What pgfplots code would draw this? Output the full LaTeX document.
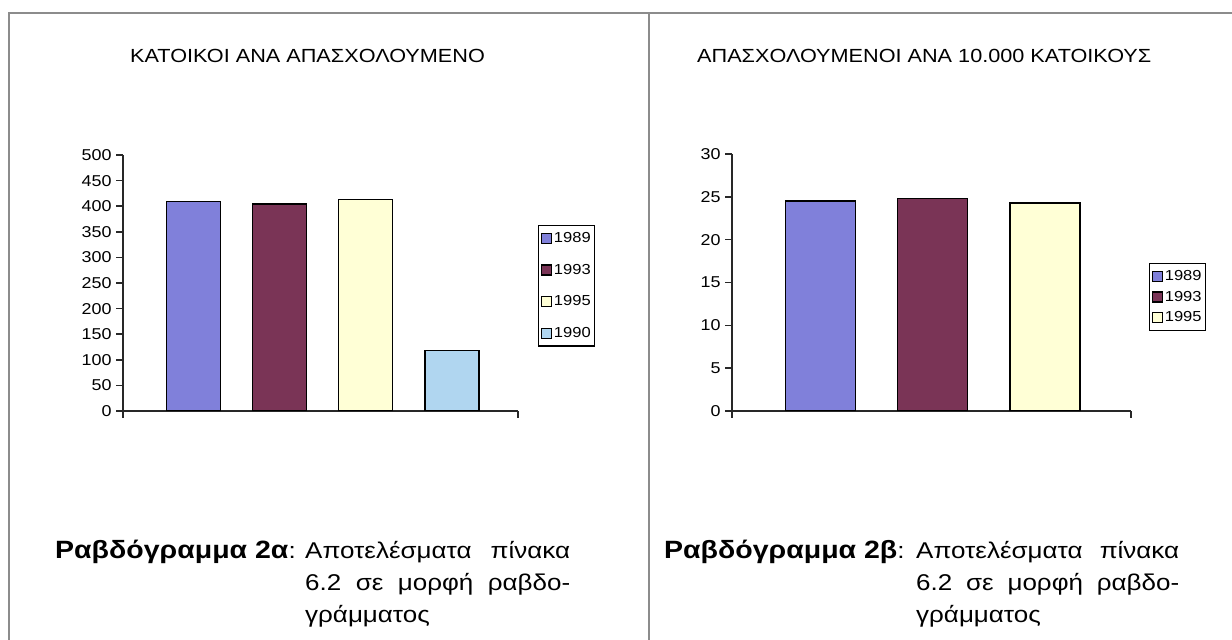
\documentclass[border=0pt]{standalone}
\usepackage{fontspec}
\setmainfont{Liberation Sans}[FakeStretch=1.14]
\usepackage{pgfplots}
\pgfplotsset{compat=1.18}
\definecolor{c89}{RGB}{128,128,218}
\definecolor{c93}{RGB}{122,52,86}
\definecolor{c95}{RGB}{255,255,214}
\definecolor{c90}{RGB}{176,214,240}
\definecolor{axc}{RGB}{40,40,40}
\pgfplotsset{
  excel/.style={
    scale only axis,
    anchor=south west,
    enlargelimits=false,
    axis lines=left,
    axis line style={-, line width=2pt, axc},
    tick align=outside,
    major tick length=7pt,
    tick style={line width=1.6pt, axc},
    xticklabels={},
    ymin=0,
    /pgf/number format/assume math mode=true,
    yticklabel style={font=\fontsize{15.7}{15.7}\selectfont, xshift=-1pt},
    legend style={draw=black, line width=1.3pt, fill=white,
      font=\fontsize{14.5}{14.5}\selectfont,
      inner xsep=2pt, inner ysep=5pt,
      anchor=north west, cells={anchor=west}},
    legend image code/.code={\draw[#1, line width=1.2pt] (0pt,-5pt) rectangle (10pt,5pt);},
  },
  bar/.style={ybar, bar width=#1, bar shift=0pt, draw=black, line width=1.6pt},
}
\begin{document}
\begin{tikzpicture}[x=1pt,y=1pt]
\path[use as bounding box] (0,0) rectangle (1232,640);
\draw[black!45, line width=1.3pt] (9,0) -- (9,627) -- (1232,627);
\draw[black!45, line width=1.3pt] (649,0) -- (649,627);

% Left chart
\begin{axis}[excel, at={(123pt,229pt)}, width=395pt, height=256pt,
  xmin=0.18, xmax=4.77, xtick={0.18,4.77},
  ymax=500, ytick={0,50,...,500},
  legend style={at={(1.051,0.727)}, row sep=16pt}]
\addplot[bar=54pt, fill=c89] coordinates {(1,409)};
\addplot[bar=54pt, fill=c93] coordinates {(2,404)};
\addplot[bar=54pt, fill=c95] coordinates {(3,413)};
\addplot[bar=54pt, fill=c90] coordinates {(4,118)};
\legend{1989,1993,1995,1990}
\end{axis}

% Right chart
\begin{axis}[excel, at={(732pt,229pt)}, width=399pt, height=257pt,
  xmin=0.21, xmax=3.77, xtick={0.21,3.77},
  ymax=30, ytick={0,5,...,30},
  legend style={at={(1.045,0.576)}, row sep=5pt}]
\addplot[bar=70pt, fill=c89] coordinates {(1,24.5)};
\addplot[bar=70pt, fill=c93] coordinates {(2,24.8)};
\addplot[bar=70pt, fill=c95] coordinates {(3,24.3)};
\legend{1989,1993,1995}
\end{axis}

% Titles
\node[anchor=base west, inner sep=0pt, font=\fontsize{19}{19}\selectfont] at (130,577) {ΚΑΤΟΙΚΟΙ ΑΝΑ ΑΠΑΣΧΟΛΟΥΜΕΝΟ};
\node[anchor=base west, inner sep=0pt, font=\fontsize{19}{19}\selectfont] at (697,577) {ΑΠΑΣΧΟΛΟΥΜΕΝΟΙ ΑΝΑ 10.000 ΚΑΤΟΙΚΟΥΣ};

% Captions
\begin{scope}[every node/.style={anchor=base west, inner sep=0pt, font=\fontsize{22.8}{22.8}\selectfont}]
\node at (55,81) {{\fontsize{25}{25}\selectfont\bfseries Ραβδόγραμμα 2α}:};
\node at (305,81) {\makebox[265pt][s]{Αποτελέσματα\hfill πίνακα}};
\node at (305,49) {\makebox[265pt][s]{6.2\hfill σε\hfill μορφή\hfill ραβδο-}};
\node at (305,17) {γράμματος};
\node at (664,81) {{\fontsize{25}{25}\selectfont\bfseries Ραβδόγραμμα 2β}:};
\node at (916,81) {\makebox[263pt][s]{Αποτελέσματα\hfill πίνακα}};
\node at (916,49) {\makebox[263pt][s]{6.2\hfill σε\hfill μορφή\hfill ραβδο-}};
\node at (916,17) {γράμματος};
\end{scope}
\end{tikzpicture}
\end{document}
